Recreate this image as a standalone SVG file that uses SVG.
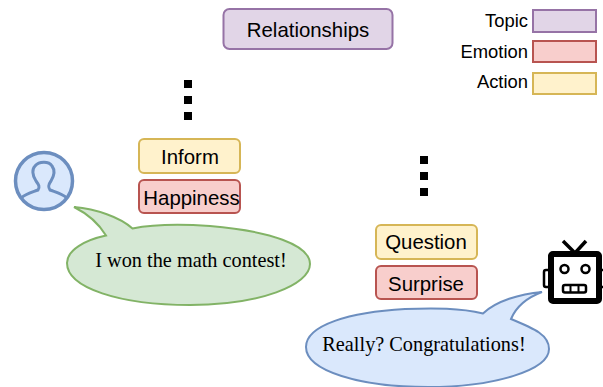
<svg xmlns="http://www.w3.org/2000/svg" width="603" height="387" viewBox="0 0 603 387">
<style>
text{font-family:"Liberation Sans",Arial,sans-serif;fill:#000;text-anchor:middle}
.t{font-size:20.4px}
.l{font-size:18.4px;text-anchor:end}
.s{font-family:"Liberation Serif","Times New Roman",serif;font-size:20.3px}
.b{stroke-width:2}
.topic{fill:#e1d5e7;stroke:#9673a6}
.emo{fill:#f8cecc;stroke:#b85450}
.act{fill:#fff2cc;stroke:#d6b656}
.dot{fill:#000}
</style>
<g id="connectors">
<rect class="dot" x="184" y="80" width="8" height="8"/>
<rect class="dot" x="184" y="96" width="8" height="8"/>
<rect class="dot" x="184" y="112" width="8" height="8"/>
<rect class="dot" x="420" y="156" width="8" height="8"/>
<rect class="dot" x="420" y="172" width="8" height="8"/>
<rect class="dot" x="420" y="188" width="8" height="8"/>
</g>
<g id="relationships"><rect class="topic b" x="223.500" y="9" width="169" height="40" rx="6"/><text class="t" x="308" y="37">Relationships</text></g>
<g id="legend-topic"><text class="l" x="528" y="27">Topic</text><rect class="topic b" x="533" y="10" width="63" height="22"/></g>
<g id="legend-emotion"><text class="l" x="528" y="58">Emotion</text><rect class="emo b" x="533" y="41" width="63" height="21"/></g>
<g id="legend-action"><text class="l" x="528" y="88">Action</text><rect class="act b" x="533" y="73" width="63" height="21"/></g>
<g id="inform"><rect class="act b" x="139" y="139" width="101" height="34" rx="5"/><text class="t" x="190" y="164">Inform</text></g>
<g id="happiness"><rect class="emo b" x="139" y="180" width="101" height="33" rx="5"/><text class="t" x="191.500" y="205">Happiness</text></g>
<g id="question"><rect class="act b" x="376" y="225" width="101" height="34" rx="5"/><text class="t" x="426" y="249">Question</text></g>
<g id="surprise"><rect class="emo b" x="376" y="266" width="101" height="33" rx="5"/><text class="t" x="426" y="291">Surprise</text></g>
<g id="user">
<circle cx="44" cy="181" r="28.500" fill="#dae8fc" stroke="#6c8ebf" stroke-width="3.500"/>
<path d="M21 198C27 193 33 192 38 190C40 187 39 185 36 181C32 175 32 169 35 166C39 161 49 161 52 166C55 170 54 176 51 181C48 185 48 187 50 190C55 192 61 193 67 198" fill="none" stroke="#6c8ebf" stroke-width="3"/>
</g>
<g id="robot" fill="none" stroke="#000">
<path d="M563 241L575 253L586 241" stroke-width="3.500"/>
<rect x="544" y="270" width="6" height="17" rx="2" stroke-width="2.500" fill="#fff"/>
<rect x="599" y="270" width="6" height="17" rx="2" stroke-width="2.500" fill="#fff"/>
<rect x="551" y="254" width="48" height="47" rx="2" fill="#fff" stroke-width="6"/>
<circle cx="564.500" cy="269" r="4" stroke-width="2.500"/>
<circle cx="585.500" cy="269" r="4" stroke-width="2.500"/>
<rect x="563" y="285" width="23" height="7.500" rx="2" stroke-width="2.500"/>
<path d="M570.500 285V292.500M578.500 285V292.500" stroke-width="2"/>
</g>
<g id="bubble-user">
<path d="M74 207C96 209 120 217 132.500 228.500C155 224 180 224 210 226C270 231 310 245 310 264C310 285 260 305 190 305C120 305 67 288 67 263C67 250 85 240 106 235.500C99 224 88 214 74 207Z" fill="#d5e8d4" stroke="#82b366" stroke-width="2"/>
<text class="s" x="191" y="267">I won the math contest!</text>
</g>
<g id="bubble-bot">
<path d="M542 292C520 294 496 301 483 313.500C460 308 435 308 405 309C350 312 306 325 306 347C306 371 360 387 428 387C495 387 549 370 549 349C549 335 535 329 511 319C516 307 526 298 542 292Z" fill="#dae8fc" stroke="#6c8ebf" stroke-width="2"/>
<text class="s" x="424" y="351">Really? Congratulations!</text>
</g>
</svg>
